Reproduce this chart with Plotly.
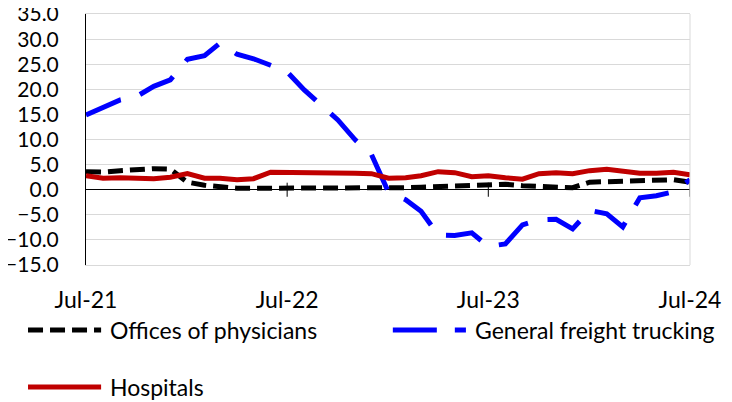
"""Year-over-year employment growth: physicians, trucking, hospitals."""

import pandas as pd
import plotly.graph_objects as go

months = pd.date_range("2021-07-01", "2024-07-01", freq="MS")

physicians = [3.6, 3.5, 3.8, 4.0, 4.2, 4.1, 1.5, 0.9, 0.5, 0.3, 0.3, 0.3, 0.2,
              0.2, 0.2, 0.2, 0.2, 0.3, 0.3, 0.4, 0.5, 0.6, 0.8, 0.9, 1.1,
              1.1, 0.8, 0.6, 0.5, 0.4, 1.5, 1.6, 1.6, 1.7, 2.0, 2.0, 1.5]

trucking = [14.9, 16.5, 17.9, 18.6, 20.6, 21.9, 26.0, 26.7, 29.2, 27.0, 26.1,
            24.8, 23.5, 19.9, 16.9, 13.9, 10.0, 7.0, -0.5, -2.0, -4.3, -9.0,
            -9.1, -8.6, -11.3, -10.8, -7.0, -6.0, -5.9, -7.8, -4.1, -4.8,
            -7.4, -1.6, -1.2, -0.4, 2.0]

hospitals = [2.8, 2.3, 2.4, 2.2, 2.2, 2.5, 3.2, 2.3, 2.3, 2.0, 2.2, 3.5, 3.5,
             3.4, 3.3, 3.4, 3.3, 3.2, 2.3, 2.4, 2.8, 3.6, 3.4, 2.6, 2.8, 2.4,
             2.1, 3.2, 3.4, 3.2, 3.8, 4.1, 3.8, 3.3, 3.3, 3.5, 3.0]

tick_dates = ["2021-07-01", "2022-07-01", "2023-07-01", "2024-07-01"]
tick_text = ["Jul-21", "Jul-22", "Jul-23", "Jul-24"]
y_ticks = [-15, -10, -5, 0, 5, 10, 15, 20, 25, 30, 35]

FONT = "Lato, Carlito, sans-serif"
SIZE = 23

# name, values, colour, dash in the plot, dash in the legend, legend x/y (paper)
series = [
    ("Offices of physicians", physicians, "#000000", "15px,7px", "15px,7px", -0.096, -0.259),
    ("General freight trucking", trucking, "#0000FF", "38px,20px", "44px,18px", 0.508, -0.259),
    ("Hospitals", hospitals, "#C00000", "solid", "solid", -0.096, -0.486),
]

fig = go.Figure()
for name, values, color, dash, _, _, _ in series:
    fig.add_trace(go.Scatter(
        x=months, y=values, mode="lines", name=name,
        line=dict(color=color, width=5, dash=dash),
        showlegend=False
    ))

# tick marks crossing the zero line
for d in tick_dates[1:]:
    fig.add_shape(type="line", xref="x", yref="y", x0=d, x1=d, y0=-1.4, y1=1.4,
                  line=dict(color="#000000", width=1))

# right border of the plot area
fig.add_shape(type="line", xref="paper", yref="paper", x0=1, x1=1, y0=0, y1=1,
              line=dict(color="#D9D9D9", width=1))

# hand-made legend laid out like the original
for name, _, color, _, ldash, lx, ly in series:
    fig.add_shape(type="line", xref="paper", yref="paper",
                  x0=lx, x1=lx + 0.121, y0=ly, y1=ly,
                  line=dict(color=color, width=5, dash=ldash))
    fig.add_annotation(xref="paper", yref="paper", x=lx + 0.132, y=ly,
                       text=name, showarrow=False, xanchor="left", yanchor="middle",
                       font=dict(family=FONT, size=SIZE, color="#000000"))

# page body adds an 8px offset, so the figure is 8px smaller each way
fig.update_layout(
    width=724, height=394,
    margin=dict(l=78, r=42, t=6, b=137, autoexpand=False),
    plot_bgcolor="white", paper_bgcolor="white",
    font=dict(family=FONT, size=SIZE, color="#000000"),
    xaxis=dict(
        type="date", range=["2021-07-01", "2024-07-01"],
        tickvals=tick_dates, ticktext=tick_text, automargin=False,
        showgrid=False, showline=True, mirror=True, linecolor="#D9D9D9",
        ticks="", ticklabelstandoff=14, ticklabeloverflow="allow"
    ),
    yaxis=dict(
        range=[-15, 35.02], tickvals=y_ticks, tickformat=".1f", automargin=False,
        tickfont=dict(size=21),
        showgrid=True, gridcolor="#D9D9D9", gridwidth=1,
        showline=True, linecolor="#000000", linewidth=1,
        zeroline=True, zerolinecolor="#000000", zerolinewidth=1,
        ticks="", ticklabelstandoff=22, ticklabeloverflow="allow"
    ),
)

fig.write_html("out.html")
